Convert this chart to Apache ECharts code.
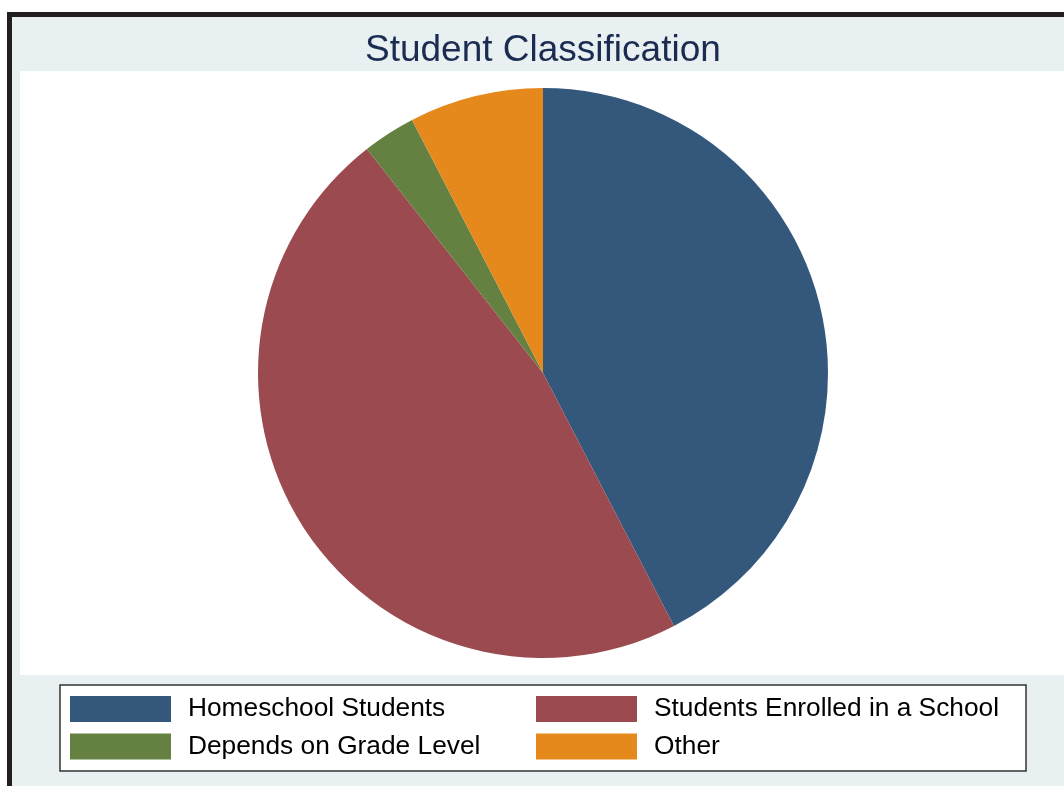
<!DOCTYPE html>
<html>
<head>
<meta charset="utf-8">
<script src="https://cdn.jsdelivr.net/npm/echarts@6/dist/echarts.min.js"></script>
<style>
  html, body { margin:0; padding:0; background:#ffffff; overflow:hidden; }
  #frame { position:absolute; left:7px; top:12px; width:1100px; height:820px; box-sizing:border-box;
           border-left:5px solid #231f20; border-top:5px solid #231f20; background:#e8f0f2; }
  #chart { position:absolute; left:0; top:0; width:1064px; height:786px; }
</style>
</head>
<body>
<div id="frame"></div>
<div id="chart"></div>
<script>
const title = 'Student Classification';
const categories = ['Homeschool Students', 'Students Enrolled in a School', 'Depends on Grade Level', 'Other'];
const values = [42.4, 47.0, 3.0, 7.6];
const colors = ['#33587c', '#9b4a50', '#648141', '#e5891c'];

const chart = echarts.init(document.getElementById('chart'), null, { renderer: 'canvas' });
const legendCommon = {
  orient: 'vertical', top: 696, padding: 0, itemWidth: 101, itemHeight: 26, itemGap: 11.5,
  icon: 'rect', selectedMode: false,
  textStyle: { fontFamily: 'Liberation Sans, Arial, sans-serif', fontSize: 26.3, color: '#000', padding: [3, 0, 0, 12] }
};
chart.setOption({
  animation: false,
  backgroundColor: 'transparent',
  color: colors,
  title: {
    text: title, left: 365, top: 32, padding: 0,
    textStyle: { fontFamily: 'Liberation Sans, Arial, sans-serif', fontSize: 37, fontWeight: 'normal', color: '#1c2b50' }
  },
  graphic: [
    { type: 'rect', z: -10, shape: { x: 20, y: 71, width: 1060, height: 604 }, style: { fill: '#ffffff' } },
    { type: 'rect', z: -10, shape: { x: 60, y: 685, width: 966, height: 86 }, style: { fill: '#ffffff', stroke: '#333333', lineWidth: 1.5 } }
  ],
  legend: [
    Object.assign({ left: 70, data: [categories[0], categories[2]] }, legendCommon),
    Object.assign({ left: 536, data: [categories[1], categories[3]] }, legendCommon)
  ],
  series: [{
    type: 'pie',
    center: [543, 373],
    radius: 285,
    startAngle: 90,
    clockwise: true,
    label: { show: false },
    labelLine: { show: false },
    emphasis: { disabled: true },
    itemStyle: { borderWidth: 0 },
    data: categories.map((c, i) => ({ name: c, value: values[i] }))
  }]
});
</script>
</body>
</html>
